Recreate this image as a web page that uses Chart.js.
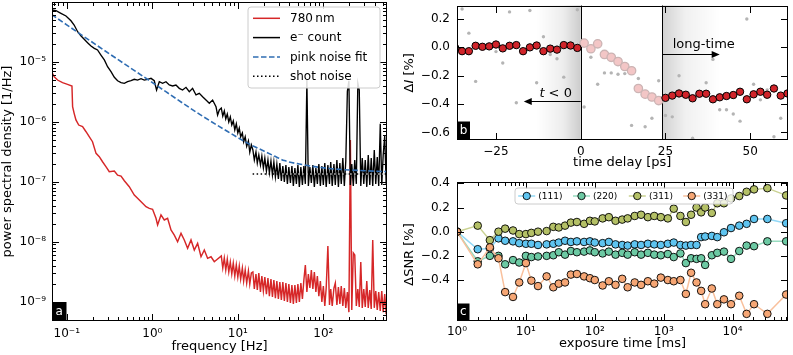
<!DOCTYPE html>
<html><head><meta charset="utf-8">
<script src="https://cdn.jsdelivr.net/npm/chart.js@4.4.1/dist/chart.umd.min.js"></script>
<style>
html,body{margin:0;padding:0;background:#fff;}
body{width:793px;height:355px;position:relative;overflow:hidden;}
canvas{position:absolute;}
</style></head><body>
<canvas id="ca" width="400" height="355" style="left:0px;top:0px"></canvas>
<canvas id="cb" width="393" height="175" style="left:400px;top:0px"></canvas>
<canvas id="cc" width="393" height="180" style="left:400px;top:175px"></canvas>
<script>
// ---------------- Panel a : power spectral density ----------------
const aTicksX = [0.1, 1, 10, 100];
const aTicksY = [1e-9, 1e-8, 1e-7, 1e-6, 1e-5];

const fBlackLow = [0.0671,0.0748,0.0855,0.0979,0.112,0.122,0.134,0.147,0.160,0.175,0.192,0.210,0.229,0.251,0.275,0.300,0.329,0.360,0.393,0.431,0.471,0.514,0.564,0.616,0.673,0.738,0.806,0.881,0.966,1.055,1.122,1.208,1.320,1.445,1.581,1.727,1.891,2.069,2.260,2.477,2.709,2.960,3.245,3.546,3.875,4.246,4.642,5.072,5.559,5.80,6.08];
const psdBlackLow = [7.28e-5,7.08e-5,6.41e-5,5.78e-5,4.82e-5,4.09e-5,3.16e-5,2.68e-5,2.36e-5,2.07e-5,1.83e-5,1.67e-5,1.57e-5,1.29e-5,1.07e-5,8.26e-6,6.81e-6,5.50e-6,4.82e-6,4.47e-6,4.36e-6,4.64e-6,4.82e-6,5.09e-6,4.95e-6,5.21e-6,4.95e-6,5.09e-6,5.28e-6,4.82e-6,3.37e-6,4.64e-6,4.36e-6,4.64e-6,4.09e-6,3.94e-6,4.09e-6,3.60e-6,3.37e-6,3.74e-6,3.16e-6,3.60e-6,2.79e-6,2.97e-6,2.61e-6,2.30e-6,2.03e-6,2.30e-6,1.78e-6,1.29e-6,1.57e-6];

const fMid = [6.41,6.67,6.95,7.23,7.53,7.84,8.17,8.50,8.85,9.22,9.60,10.0,10.4,10.8,11.3,11.7,12.2,12.7,13.3,13.8,14.4];
const psdBlackMid = [1.69e-6,1.24e-6,1.51e-6,1.11e-6,1.34e-6,9.9e-7,1.20e-6,8.8e-7,1.03e-6,7.3e-7,9.2e-7,6.5e-7,7.85e-7,5.6e-7,6.5e-7,4.6e-7,5.6e-7,3.9e-7,4.8e-7,3.1e-7,4.1e-7];
const psdRedMid = [5.78e-9,3.65e-9,5.35e-9,3.38e-9,5.1e-9,3.13e-9,4.59e-9,2.90e-9,4.4e-9,2.68e-9,4.1e-9,2.58e-9,3.94e-9,2.39e-9,3.65e-9,2.21e-9,3.38e-9,2.05e-9,3.25e-9,1.97e-9,3.01e-9];

const fHi = [15.0,15.6,16.3,16.9,17.6,18.4,19.1,19.9,20.7,21.6,22.5,23.4,24.4,25.4,26.4,27.5,28.6,29.8,31.0,32.3,33.6,35.0,36.5,38.0,39.5,41.2,42.9,44.6,46.5,48.4,50.4,52.4,54.6,56.9,59.2,61.6,64.2,66.8,69.6,72.4,75.4,78.5,81.8,85.1,88.6,92.3,96.1,100,104,108,113,118,122,127,133,138,144,150,156,162,169,176,183,191,199,207,215,224,233,243,253,263,274,285,297,309,322,335,349,363,378,394,410,427,444,463,482,501,522,543];
const psdBlackHi = [3.38e-7,2.30e-7,3.13e-7,2.05e-7,2.79e-7,1.90e-7,2.68e-7,1.69e-7,2.48e-7,1.51e-7,
 2.30e-7,1.40e-7,2.21e-7,1.29e-7,2.13e-7,1.20e-7,1.97e-7,1.11e-7,2.05e-7,1.03e-7,
 1.83e-7,9.9e-8,1.90e-7,9.2e-8,1.76e-7,9.5e-8,1.83e-7,8.5e-8,1.69e-7,9.2e-8,
 1.90e-7,8.2e-8,1.76e-7,8.8e-8,1.83e-7,9.2e-8,4.95e-6,8.5e-8,1.76e-7,9.5e-8,
 1.90e-7,8.2e-8,1.69e-7,9.2e-8,1.97e-7,8.5e-8,1.83e-7,8.8e-8,2.05e-7,8.2e-8,
 1.90e-7,9.2e-8,2.13e-7,8.5e-8,1.97e-7,8.8e-8,2.30e-7,8.2e-8,2.05e-7,9.2e-8,
 2.48e-7,8.5e-8,2.21e-7,3.2e-6,4.8e-6,8.8e-8,1.97e-7,8.5e-8,2.30e-7,9.2e-8,
 4.4e-6,3.37e-6,8.5e-8,2.48e-7,9.2e-8,2.30e-7,8.2e-8,2.79e-7,8.8e-8,2.48e-7,
 8.5e-8,3.38e-7,9.2e-8,2.58e-7,8.5e-8,9.2e-7,8.8e-8,2.79e-7,5.8e-7,9.2e-8];
const psdRedHi = [3.13e-9,1.63e-9,2.90e-9,1.57e-9,3.01e-9,1.45e-9,2.68e-9,1.51e-9,2.58e-9,1.34e-9,
 2.48e-9,1.24e-9,2.39e-9,1.20e-9,2.30e-9,1.15e-9,2.21e-9,1.11e-9,2.13e-9,1.07e-9,
 2.13e-9,1.03e-9,2.05e-9,9.9e-10,1.97e-9,9.5e-10,1.90e-9,9.2e-10,1.90e-9,9.5e-10,
 1.97e-9,9.9e-10,2.05e-9,1.11e-9,2.30e-9,4.09e-9,1.45e-9,2.90e-9,1.69e-9,3.38e-9,
 1.63e-9,3.13e-9,1.45e-9,2.68e-9,1.24e-9,2.21e-9,9.9e-10,1.83e-9,8.5e-10,1.69e-9,
 8.5e-9,8.8e-10,1.63e-9,8.5e-10,1.69e-9,2.05e-9,8.8e-10,1.76e-9,9.2e-10,1.83e-9,
 8.5e-10,1.69e-9,7.9e-10,1.45e-9,6.7e-10,4.95e-7,7.3e-10,6.5e-9,6.0e-9,8.5e-10,
 1.63e-9,8.2e-10,4.6e-9,7.9e-10,1.63e-9,8.2e-10,2.21e-9,7.9e-10,1.57e-9,7.6e-10,
 1.07e-8,7.9e-10,1.51e-9,7.3e-10,1.45e-9,7.0e-10,1.51e-9,6.7e-10,1.34e-9,6.2e-10];

const fRedLow = [0.0671,0.0714,0.078,0.0893,0.102,0.115,0.117,0.122,0.128,0.138,0.153,0.168,0.183,0.200,0.220,0.240,0.262,0.287,0.314,0.360,0.393,0.431,0.471,0.538,0.616,0.673,0.770,0.844,0.923,1.008,1.105,1.154,1.264,1.381,1.510,1.655,1.809,1.977,2.167,2.367,2.588,2.836,3.098,3.388,3.714,4.056,4.434,4.860,5.31];
const psdRedLow = [6.56e-6,5.62e-6,4.95e-6,4.47e-6,4.20e-6,3.94e-6,1.78e-6,1.38e-6,1.07e-6,8.8e-7,8.26e-7,6.81e-7,5.62e-7,4.64e-7,2.97e-7,2.61e-7,2.15e-7,1.78e-7,1.47e-7,1.51e-7,1.29e-7,1.24e-7,1.04e-7,8.26e-8,6.0e-8,5.28e-8,4.36e-8,3.83e-8,3.6e-8,3.47e-8,2.46e-8,1.90e-8,2.79e-8,2.30e-8,2.46e-8,1.57e-8,1.29e-8,1.0e-8,1.38e-8,1.07e-8,7.76e-9,1.07e-8,7.28e-9,9.4e-9,5.62e-9,7.28e-9,5.28e-9,5.62e-9,4.64e-9];

const fPink = [0.0664,0.240,0.923,3.55,6.95,13.6,20.4,26.7,35.0,52.4,117.5,545];
const psdPink = [6.12e-5,1.76e-5,4.86e-6,1.34e-6,7.41e-7,4.25e-7,3.22e-7,2.68e-7,2.25e-7,1.97e-7,1.66e-7,1.47e-7];

const fShot = [14.9, 555];
const psdShot = [1.34e-7, 1.34e-7];
const fShotOverlay = [33, 555];

// ---------------- Panel b : time delay ----------------
const bTicksX = [-25, 0, 25, 50];
const bTicksY = [0.2, 0.0, -0.2, -0.4, -0.6];
const bRedT = [-37,-35,-33,-31,-29,-27,-25,-23,-21,-19,-17,-15,-13,-11,-9,-7,-5,-3,-1,
               25,27,29,31,33,35,37,39,41,43,45,47,49,51,53,55,57,59,61];
const bRedV = [-0.005,-0.027,-0.027,0.011,0.004,0.007,0.02,-0.007,0.011,0.016,-0.027,0.0,0.013,-0.027,-0.009,-0.016,0.016,0.013,-0.004,
               -0.356,-0.340,-0.325,-0.334,-0.359,-0.327,-0.327,-0.366,-0.352,-0.343,-0.336,-0.313,-0.366,-0.331,-0.313,-0.334,-0.290,-0.340,-0.325];
const bPinkT = [1,3,5,7,9,11,13,15,17,19,21,23];
const bPinkV = [0.03,-0.01,0.025,-0.05,-0.07,-0.10,-0.135,-0.165,-0.29,-0.33,-0.35,-0.375];
const bGreyT = [-37,-35,-33,-31,-25,-23,-21,-19,-15,-13,-11,-9,-7,-5,-1,1,3,5,7,9,11,13,15,17,19,21,23,25,27,29,33,37,39,41,43,45,47,49,51,53,55,57,59];
const bGreyV = [0.07,0.27,0.10,-0.24,-0.03,-0.11,0.25,-0.39,0.26,-0.25,0.075,-0.05,-0.08,-0.21,0.265,-0.42,-0.07,-0.26,-0.18,-0.18,-0.19,-0.185,-0.55,-0.22,-0.56,-0.50,-0.235,-0.48,-0.49,-0.20,-0.64,-0.25,-0.085,-0.44,-0.44,-0.47,-0.52,0.20,-0.26,-0.37,-0.30,-0.63,-0.50];
const bTimeZero = 0, bLongStart = 24;

// ---------------- Panel c : exposure time ----------------
const cTicksX = [1, 10, 100, 1000, 10000];
const cTicksY = [0.4, 0.2, 0.0, -0.2, -0.4];
const cX = [1,2,3,4,5,6.5,8,10,12,15,20,25,30,37,45,55,70,85,100,130,160,200,250,300,380,470,590,730,910,1150,1400,1750,2100,2500,3000,3500,4000,5000,6000,7500,9500,12500,16000,20500,32000,60000];
const c111 = [0.0,-0.145,-0.14,-0.055,-0.075,-0.08,-0.095,-0.10,-0.10,-0.11,
  -0.105,-0.10,-0.09,-0.075,-0.085,-0.08,-0.085,-0.08,-0.09,-0.095,-0.085,
  -0.105,-0.11,-0.115,-0.105,-0.11,-0.10,-0.105,-0.11,-0.10,-0.09,-0.11,-0.115,-0.11,-0.11,
  -0.045,-0.04,-0.035,-0.045,-0.005,0.03,0.05,0.065,0.105,0.105,0.07];
const c220 = [0.0,-0.245,-0.20,-0.20,-0.27,-0.235,-0.255,-0.20,-0.21,-0.205,
  -0.20,-0.195,-0.17,-0.19,-0.16,-0.17,-0.165,-0.155,-0.17,-0.18,-0.165,
  -0.19,-0.175,-0.19,-0.17,-0.19,-0.175,-0.19,-0.195,-0.185,-0.21,-0.18,-0.26,-0.22,-0.225,
  -0.22,-0.275,-0.195,-0.175,-0.165,-0.225,-0.16,-0.115,-0.12,-0.08,-0.08];
const c311 = [0.0,0.05,-0.07,0.0,0.025,0.01,-0.02,-0.02,-0.01,0.0,
  0.005,0.04,0.035,0.05,0.075,0.08,0.065,0.09,0.085,0.11,0.12,
  0.09,0.10,0.11,0.13,0.14,0.12,0.13,0.12,0.11,0.19,0.13,0.08,0.14,0.20,
  0.16,0.20,0.155,0.235,0.235,0.275,0.295,0.33,0.35,0.36,0.30];
const c331 = [0.0,-0.27,-0.13,-0.22,-0.50,-0.54,-0.42,-0.26,-0.405,-0.45,
  -0.37,-0.46,-0.43,-0.42,-0.355,-0.35,-0.37,-0.385,-0.40,-0.445,-0.41,
  -0.44,-0.39,-0.46,-0.42,-0.44,-0.41,-0.43,-0.38,-0.40,-0.41,-0.40,-0.515,-0.34,-0.42,
  -0.49,-0.60,-0.47,-0.60,-0.56,-0.60,-0.53,-0.68,-0.60,-0.68,-0.52];

// ================= helpers =================
const FONT = "'DejaVu Sans', sans-serif";
Chart.defaults.font.family = FONT;
Chart.defaults.color = '#000';
const SUP = {'-':'\u207B','0':'\u2070','1':'\u00B9','2':'\u00B2','3':'\u00B3','4':'\u2074','5':'\u2075','6':'\u2076','7':'\u2077','8':'\u2078','9':'\u2079'};
const pow10Label = v => '10' + String(Math.round(Math.log10(v))).split('').map(c => SUP[c]).join('');
const minus = s => String(s).replace('-', '\u2212');
const pts = (xs, ys) => xs.map((x, i) => ({x: x, y: ys[i]}));
function logMinor(min, max) {
  const out = [];
  for (let e = Math.floor(Math.log10(min)); e <= Math.ceil(Math.log10(max)); e++)
    for (let m = 2; m <= 9; m++) { const v = m * Math.pow(10, e); if (v >= min && v <= max) out.push(v); }
  return out;
}
function fixed(size, horiz) {
  return s => { if (horiz) s.height = size; else s.width = size;
    s.paddingLeft = 0; s.paddingRight = 0; s.paddingTop = 0; s.paddingBottom = 0; };
}
function scaleCfg(type, min, max, ticks, fmt, size, horiz, pad) {
  return { type: type, min: min, max: max,
    grid: {display: false, drawTicks: false}, border: {display: false},
    afterBuildTicks: s => { s.ticks = ticks.map(v => ({value: v})); },
    afterFit: fixed(size, horiz),
    ticks: {autoSkip: false, maxRotation: 0, minRotation: 0, padding: pad, color: '#000',
      font: {size: 12, family: FONT}, callback: v => fmt(v)} };
}
function runs(ctx, parts, cx, cy, size) {
  let w = 0;
  parts.forEach(p => { ctx.font = (p.it ? 'italic ' : '') + size + 'px ' + FONT; p.w = ctx.measureText(p.t).width; w += p.w; });
  let x = cx - w / 2;
  ctx.textAlign = 'left'; ctx.textBaseline = 'middle';
  parts.forEach(p => { ctx.font = (p.it ? 'italic ' : '') + size + 'px ' + FONT; ctx.fillText(p.t, x, cy); x += p.w; });
}
function roundBox(ctx, x, y, w, h, r) {
  ctx.beginPath();
  ctx.moveTo(x + r, y); ctx.lineTo(x + w - r, y); ctx.quadraticCurveTo(x + w, y, x + w, y + r);
  ctx.lineTo(x + w, y + h - r); ctx.quadraticCurveTo(x + w, y + h, x + w - r, y + h);
  ctx.lineTo(x + r, y + h); ctx.quadraticCurveTo(x, y + h, x, y + h - r);
  ctx.lineTo(x, y + r); ctx.quadraticCurveTo(x, y, x + r, y); ctx.closePath();
}
function deco(spec) {
  return {
    id: 'deco',
    beforeDatasetsDraw(chart) { if (spec.under) spec.under(chart); },
    afterDatasetsDraw(chart) {
      const ctx = chart.ctx, a = chart.chartArea, xs = chart.scales.x, ys = chart.scales.y;
      ctx.save();
      if (spec.over) spec.over(chart);
      ctx.strokeStyle = '#000'; ctx.lineWidth = 1; ctx.setLineDash([]);
      const L = Math.round(a.left) + 0.5, R = Math.round(a.right) - 0.5, T = Math.round(a.top) + 0.5, B = Math.round(a.bottom) - 0.5;
      ctx.beginPath();
      const vx = (vals, len) => vals.forEach(v => { if (v < xs.min || v > xs.max) return;
        const p = Math.round(xs.getPixelForValue(v)) + 0.5; ctx.moveTo(p, B); ctx.lineTo(p, B - len); ctx.moveTo(p, T); ctx.lineTo(p, T + len); });
      const vy = (vals, len) => vals.forEach(v => { if (v < ys.min || v > ys.max) return;
        const p = Math.round(ys.getPixelForValue(v)) + 0.5; ctx.moveTo(L, p); ctx.lineTo(L + len, p); ctx.moveTo(R, p); ctx.lineTo(R - len, p); });
      vx(spec.xMajor, 6.5); vx(spec.xMinor || [], 3.5); vy(spec.yMajor, 6.5); vy(spec.yMinor || [], 3.5);
      ctx.stroke();
      ctx.strokeRect(L, T, R - L, B - T);
      const lb = spec.letterBox;
      ctx.fillStyle = '#000'; ctx.fillRect(a.left, a.bottom - lb[1], lb[0], lb[1]);
      ctx.fillStyle = '#fff'; ctx.font = '12px ' + FONT; ctx.textAlign = 'center'; ctx.textBaseline = 'middle';
      ctx.fillText(spec.letter, a.left + lb[0] / 2, a.bottom - lb[1] / 2);
      ctx.fillStyle = '#000';
      runs(ctx, spec.xTitle, (a.left + a.right) / 2, a.bottom + spec.xTitleDy, 13);
      ctx.save(); ctx.translate(a.left - spec.yTitleDx, (a.top + a.bottom) / 2 + (spec.yTitleShift || 0)); ctx.rotate(-Math.PI / 2);
      runs(ctx, spec.yTitle, 0, 0, 13); ctx.restore();
      if (spec.legend) spec.legend(chart);
      ctx.restore();
    }
  };
}

// ================= Chart a =================
const aMin = 0.0672, aMax = 555, aYMin = 4.77e-10, aYMax = 9.89e-5;
const dsA = [
  {label: '780\u2009nm', data: pts(fRedLow.concat(fMid, fHi), psdRedLow.concat(psdRedMid, psdRedHi)), borderColor: '#d62728', borderWidth: 1.45, order: 5, legendRow: 0},
  {label: 'e\u207B count', data: pts(fBlackLow.concat(fMid, fHi), psdBlackLow.concat(psdBlackMid, psdBlackHi)), borderColor: '#000000', borderWidth: 1.35, order: 4, legendRow: 1},
  {label: 'pink noise fit', data: pts(fPink, psdPink), borderColor: '#2f6db3', borderWidth: 1.6, borderDash: [5.5, 2.5], cubicInterpolationMode: 'monotone', order: 3, legendRow: 2},
  {label: 'shot noise', data: pts(fShot, psdShot), borderColor: '#000000', borderWidth: 1.5, borderDash: [1.5, 2.5], order: 2, legendRow: 3},
  {label: 'shot noise overlay', data: pts(fShotOverlay, [psdShot[0], psdShot[1]]), borderColor: '#c8c8c8', borderWidth: 1.5, borderDash: [1.5, 2.5], order: 1}
];
function legendA(chart) {
  const ctx = chart.ctx, a = chart.chartArea;
  const x0 = a.left + 196, y0 = a.top + 5, w = 132, h = 81;
  roundBox(ctx, x0, y0, w, h, 3);
  ctx.fillStyle = 'rgba(255,255,255,0.85)'; ctx.fill();
  ctx.strokeStyle = '#cccccc'; ctx.lineWidth = 1; ctx.stroke();
  chart.data.datasets.filter(d => d.legendRow !== undefined).forEach(d => {
    const y = y0 + 11.3 + 19.3 * d.legendRow;
    ctx.beginPath(); ctx.strokeStyle = d.borderColor; ctx.lineWidth = 1.5; ctx.setLineDash(d.borderDash || []);
    ctx.moveTo(x0 + 5, y); ctx.lineTo(x0 + 32, y); ctx.stroke(); ctx.setLineDash([]);
    ctx.fillStyle = '#000'; ctx.font = '12px ' + FONT; ctx.textAlign = 'left'; ctx.textBaseline = 'middle';
    ctx.fillText(d.label, x0 + 42, y + 0.5);
  });
}
new Chart(document.getElementById('ca'), {
  type: 'line',
  data: {datasets: dsA.map(d => Object.assign({pointRadius: 0, fill: false, tension: 0}, d))},
  options: {
    responsive: false, animation: false, events: [], devicePixelRatio: 1,
    layout: {padding: {left: 0, top: 2, right: 13, bottom: 0}},
    plugins: {legend: {display: false}, tooltip: {enabled: false}},
    scales: {
      x: scaleCfg('logarithmic', aMin, aMax, aTicksX, pow10Label, 34, true, 6),
      y: scaleCfg('logarithmic', aYMin, aYMax, aTicksY, pow10Label, 52, false, 6)
    }
  },
  plugins: [deco({xMajor: aTicksX, xMinor: logMinor(aMin, aMax), yMajor: aTicksY, yMinor: logMinor(aYMin, aYMax),
    letter: 'a', letterBox: [14.5, 19],
    xTitle: [{t: 'frequency [Hz]'}], xTitleDy: 25.5,
    yTitle: [{t: 'power spectral density [1/Hz]'}], yTitleDx: 44,
    legend: legendA})]
});

// ================= Chart b =================
const bArrowNeg = {from: 0, to: -16.8, y: -0.375};
const bArrowLong = {from: 24, to: 41, y: -0.045};
const bTextNeg = {x: -7.4, y: -0.325};
const bTextLong = {x: 36.3, y: 0.017};
function arrow(ctx, x0, x1, y) {
  const dir = Math.sign(x1 - x0);
  ctx.beginPath(); ctx.strokeStyle = '#000'; ctx.lineWidth = 1.2;
  ctx.moveTo(x0, y); ctx.lineTo(x1 - dir * 6, y); ctx.stroke();
  ctx.beginPath(); ctx.fillStyle = '#000';
  ctx.moveTo(x1, y); ctx.lineTo(x1 - dir * 8, y - 3.5); ctx.lineTo(x1 - dir * 8, y + 3.5); ctx.closePath(); ctx.fill();
}
function underB(chart) {
  const ctx = chart.ctx, a = chart.chartArea, xs = chart.scales.x;
  const p0 = xs.getPixelForValue(bTimeZero), pl = xs.getPixelForValue(-13), p24 = xs.getPixelForValue(bLongStart), pr = xs.getPixelForValue(41);
  ctx.save();
  let g = ctx.createLinearGradient(pl, 0, p0, 0);
  g.addColorStop(0, 'rgba(0,0,0,0)'); g.addColorStop(0.6, 'rgba(0,0,0,0.07)'); g.addColorStop(1, 'rgba(0,0,0,0.2)');
  ctx.fillStyle = g; ctx.fillRect(pl, a.top, p0 - pl, a.bottom - a.top);
  g = ctx.createLinearGradient(p24, 0, pr, 0);
  g.addColorStop(0, 'rgba(0,0,0,0.18)'); g.addColorStop(0.4, 'rgba(0,0,0,0.06)'); g.addColorStop(1, 'rgba(0,0,0,0)');
  ctx.fillStyle = g; ctx.fillRect(p24, a.top, pr - p24, a.bottom - a.top);
  ctx.strokeStyle = '#000'; ctx.lineWidth = 1; ctx.beginPath();
  [p0, p24].forEach(p => { const q = Math.round(p) + 0.5; ctx.moveTo(q, a.top); ctx.lineTo(q, a.bottom); });
  ctx.stroke(); ctx.restore();
}
function overB(chart) {
  const ctx = chart.ctx, xs = chart.scales.x, ys = chart.scales.y;
  arrow(ctx, xs.getPixelForValue(bArrowNeg.from), xs.getPixelForValue(bArrowNeg.to), Math.round(ys.getPixelForValue(bArrowNeg.y)) + 0.5);
  arrow(ctx, xs.getPixelForValue(bArrowLong.from), xs.getPixelForValue(bArrowLong.to), Math.round(ys.getPixelForValue(bArrowLong.y)) + 0.5);
  ctx.fillStyle = '#000';
  runs(ctx, [{t: 't', it: true}, {t: ' < 0'}], xs.getPixelForValue(bTextNeg.x), ys.getPixelForValue(bTextNeg.y), 13);
  runs(ctx, [{t: 'long-time'}], xs.getPixelForValue(bTextLong.x), ys.getPixelForValue(bTextLong.y), 13);
}
new Chart(document.getElementById('cb'), {
  type: 'scatter',
  data: {datasets: [
    {label: 'raw', data: pts(bGreyT, bGreyV), pointRadius: 1.7, backgroundColor: '#b4b4b4', borderWidth: 0, order: 3, clip: 0},
    {label: 'transition', data: pts(bPinkT, bPinkV), pointRadius: 4.2, backgroundColor: '#f3c6c6', borderColor: '#ccb4b4', borderWidth: 1.3, order: 2, clip: 0},
    {label: 'averaged', data: pts(bRedT, bRedV), pointRadius: 3.7, backgroundColor: '#d0242a', borderColor: '#000', borderWidth: 1, order: 1, clip: 0}
  ]},
  options: {
    responsive: false, animation: false, events: [], devicePixelRatio: 1,
    layout: {padding: {left: 0, top: 2, right: 1, bottom: 0}},
    plugins: {legend: {display: false}, tooltip: {enabled: false}},
    scales: {
      x: scaleCfg('linear', -36.5, 61, bTicksX, v => minus(v), 35, true, 5),
      y: scaleCfg('linear', -0.653, 0.295, bTicksY, v => minus(Number(v).toFixed(1)), 57, false, 7)
    }
  },
  plugins: [deco({xMajor: bTicksX, yMajor: bTicksY, letter: 'b', letterBox: [13, 18.5],
    xTitle: [{t: 'time delay [ps]'}], xTitleDy: 23,
    yTitle: [{t: '\u0394'}, {t: 'I', it: true}, {t: ' [%]'}], yTitleDx: 47,
    under: underB, over: overB})]
});

// ================= Chart c =================
const cSeries = [
  {label: '(111)', data: c111, fill: '#5ec4f0', line: '#92d8f6', order: 4},
  {label: '(220)', data: c220, fill: '#6cc9a3', line: '#98dcc0', order: 3},
  {label: '(311)', data: c311, fill: '#b4c066', line: '#cad292', order: 2},
  {label: '(331)', data: c331, fill: '#f6a674', line: '#f9c09c', order: 1}
];
function legendC(chart) {
  const ctx = chart.ctx, a = chart.chartArea;
  const x0 = a.left + 58, y0 = a.top + 6, w = 218, h = 16, cy = y0 + h / 2;
  roundBox(ctx, x0, y0, w, h, 3);
  ctx.fillStyle = 'rgba(255,255,255,0.8)'; ctx.fill();
  ctx.strokeStyle = '#cccccc'; ctx.lineWidth = 1; ctx.stroke();
  const offs = [11.7, 66.5, 122.3, 176.7];
  chart.data.datasets.forEach((d, i) => {
    const mx = x0 + offs[i];
    ctx.beginPath(); ctx.strokeStyle = d.borderColor; ctx.lineWidth = 1.5;
    ctx.moveTo(mx - 8.5, cy); ctx.lineTo(mx + 8.5, cy); ctx.stroke();
    ctx.beginPath(); ctx.arc(mx, cy, 3.7, 0, Math.PI * 2); ctx.fillStyle = d.pointBackgroundColor; ctx.fill();
    ctx.strokeStyle = '#000'; ctx.lineWidth = 0.9; ctx.stroke();
    ctx.fillStyle = '#000'; ctx.font = '9px ' + FONT; ctx.textAlign = 'left'; ctx.textBaseline = 'middle';
    ctx.fillText(d.label, mx + 11.6, cy + 0.5);
  });
}
new Chart(document.getElementById('cc'), {
  type: 'line',
  data: {datasets: cSeries.map(s => ({label: s.label, data: pts(cX, s.data), borderColor: s.line, borderWidth: 1.5,
    pointRadius: 3.8, pointBackgroundColor: s.fill, pointBorderColor: '#000', pointBorderWidth: 0.9,
    tension: 0, fill: false, order: s.order, clip: 0}))},
  options: {
    responsive: false, animation: false, events: [], devicePixelRatio: 1,
    layout: {padding: {left: 0, top: 7, right: 1, bottom: 0}},
    plugins: {legend: {display: false}, tooltip: {enabled: false}},
    scales: {
      x: scaleCfg('logarithmic', 1, 64000, cTicksX, pow10Label, 34, true, 4),
      y: scaleCfg('linear', -0.739, 0.411, cTicksY, v => minus(Number(v).toFixed(1)), 57, false, 7)
    }
  },
  plugins: [deco({xMajor: cTicksX, xMinor: logMinor(1, 64000), yMajor: cTicksY, letter: 'c', letterBox: [12.5, 17.5],
    xTitle: [{t: 'exposure time [ms]'}], xTitleDy: 22.5,
    yTitle: [{t: '\u0394SNR [%]'}], yTitleDx: 47, yTitleShift: 3,
    legend: legendC})]
});
</script>
</body></html>
